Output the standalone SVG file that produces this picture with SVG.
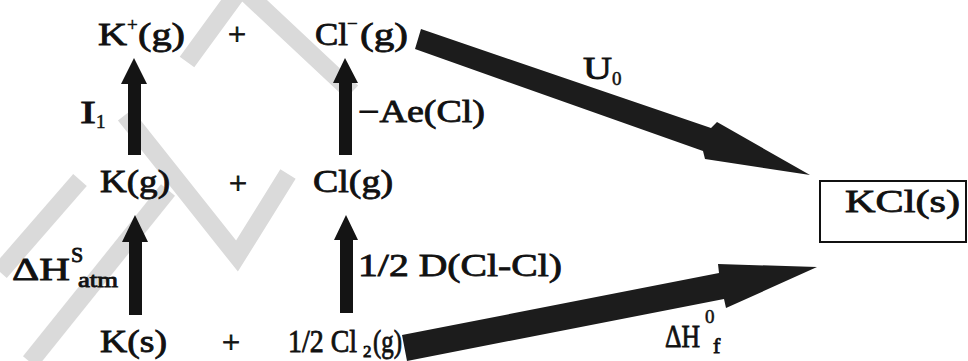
<svg xmlns="http://www.w3.org/2000/svg" width="968" height="361" viewBox="0 0 968 361" font-family="Liberation Serif, Times New Roman, serif" font-size="31" fill="#111">
<style>
text{stroke:#111;stroke-width:0.8px}
.sm{font-size:19px;stroke-width:0.5px}
.pl{font-size:32px;text-anchor:middle}
.ar{fill:#141414}
.big{fill:#1c1c1c}
.wm{fill:none;stroke:#dadada;stroke-width:18;stroke-linejoin:miter}
</style>
<rect width="968" height="361" fill="#fff"/>
<g id="watermark">
<polyline class="wm" points="187,62 241,-12 352,92"/>
<polyline class="wm" points="125,115 237,256 288,174"/>
<line class="wm" x1="0" y1="272" x2="80" y2="180"/>
<line class="wm" x1="168" y1="190" x2="30" y2="362"/>
</g>
<g id="connectors">
<polygon id="arr-I1" class="ar" points="128,155 128,84 121,84 134,58 147,84 141,84 141,155"/>
<polygon id="arr-Ae" class="ar" points="339,155 339,83 333,83 345,58 358,83 352,83 352,155"/>
<polygon id="arr-Hatm" class="ar" points="129,315 129,242 122,242 135,215 148,242 142,242 142,315"/>
<polygon id="arr-D" class="ar" points="340,313 340,240 334,240 346,215 358,240 353,240 353,313"/>
<polygon id="arr-U0" class="big" points="421,29 711,128 717,122 810,175 705,159 703,151 415,49"/>
<polygon id="arr-Hf" class="big" points="402,335 719,273 718,264 817,267 726,308 724,299 407,361"/>
</g>
<g id="node-Kp">
<text x="98" y="45" textLength="29" lengthAdjust="spacingAndGlyphs">K</text>
<text class="sm" x="127" y="31">+</text>
<text x="138" y="45" textLength="47" lengthAdjust="spacingAndGlyphs">(g)</text>
</g>
<g id="plus1"><text class="pl" x="237" y="45">+</text></g>
<g id="node-Clm">
<text x="315" y="45" textLength="33" lengthAdjust="spacingAndGlyphs">Cl</text>
<text class="sm" x="347" y="30">−</text>
<text x="360" y="45" textLength="48" lengthAdjust="spacingAndGlyphs">(g)</text>
</g>
<g id="node-Kg"><text x="100" y="192" textLength="70" lengthAdjust="spacingAndGlyphs">K(g)</text></g>
<g id="plus2"><text class="pl" x="238" y="194">+</text></g>
<g id="node-Clg"><text x="313" y="192" textLength="80" lengthAdjust="spacingAndGlyphs">Cl(g)</text></g>
<g id="node-Ks"><text x="100" y="352" textLength="67" lengthAdjust="spacingAndGlyphs">K(s)</text></g>
<g id="plus3"><text class="pl" x="231" y="353">+</text></g>
<g id="node-Cl2">
<text x="288" y="352" textLength="69" lengthAdjust="spacingAndGlyphs">1/2 Cl</text>
<text x="363" y="357" font-size="17" stroke-width="0.5">2</text>
<text x="373" y="352" textLength="29" lengthAdjust="spacingAndGlyphs">(g)</text>
</g>
<g id="node-KCl">
<rect x="820" y="181" width="146" height="61" fill="none" stroke="#111" stroke-width="2"/>
<text x="845" y="212" font-size="32" textLength="115" lengthAdjust="spacingAndGlyphs">KCl(s)</text>
</g>
<g id="labels">
<text x="80" y="123" textLength="16" lengthAdjust="spacingAndGlyphs">I</text>
<text class="sm" x="96" y="128">1</text>
<text x="358" y="122" textLength="127" lengthAdjust="spacingAndGlyphs">−Ae(Cl)</text>
<text x="12" y="280" textLength="58" lengthAdjust="spacingAndGlyphs">ΔH</text>
<text x="71" y="262" font-size="22">S</text>
<text x="78" y="287" font-size="20" textLength="40" lengthAdjust="spacingAndGlyphs">atm</text>
<text x="358" y="276" textLength="204" lengthAdjust="spacingAndGlyphs">1/2 D(Cl-Cl)</text>
<text x="583" y="79" textLength="29" lengthAdjust="spacingAndGlyphs">U</text>
<text class="sm" x="612" y="85">0</text>
<text x="665" y="347" textLength="35" lengthAdjust="spacingAndGlyphs">ΔH</text>
<text class="sm" x="705" y="323">0</text>
<text x="713" y="353" font-size="22">f</text>
</g>
</svg>
